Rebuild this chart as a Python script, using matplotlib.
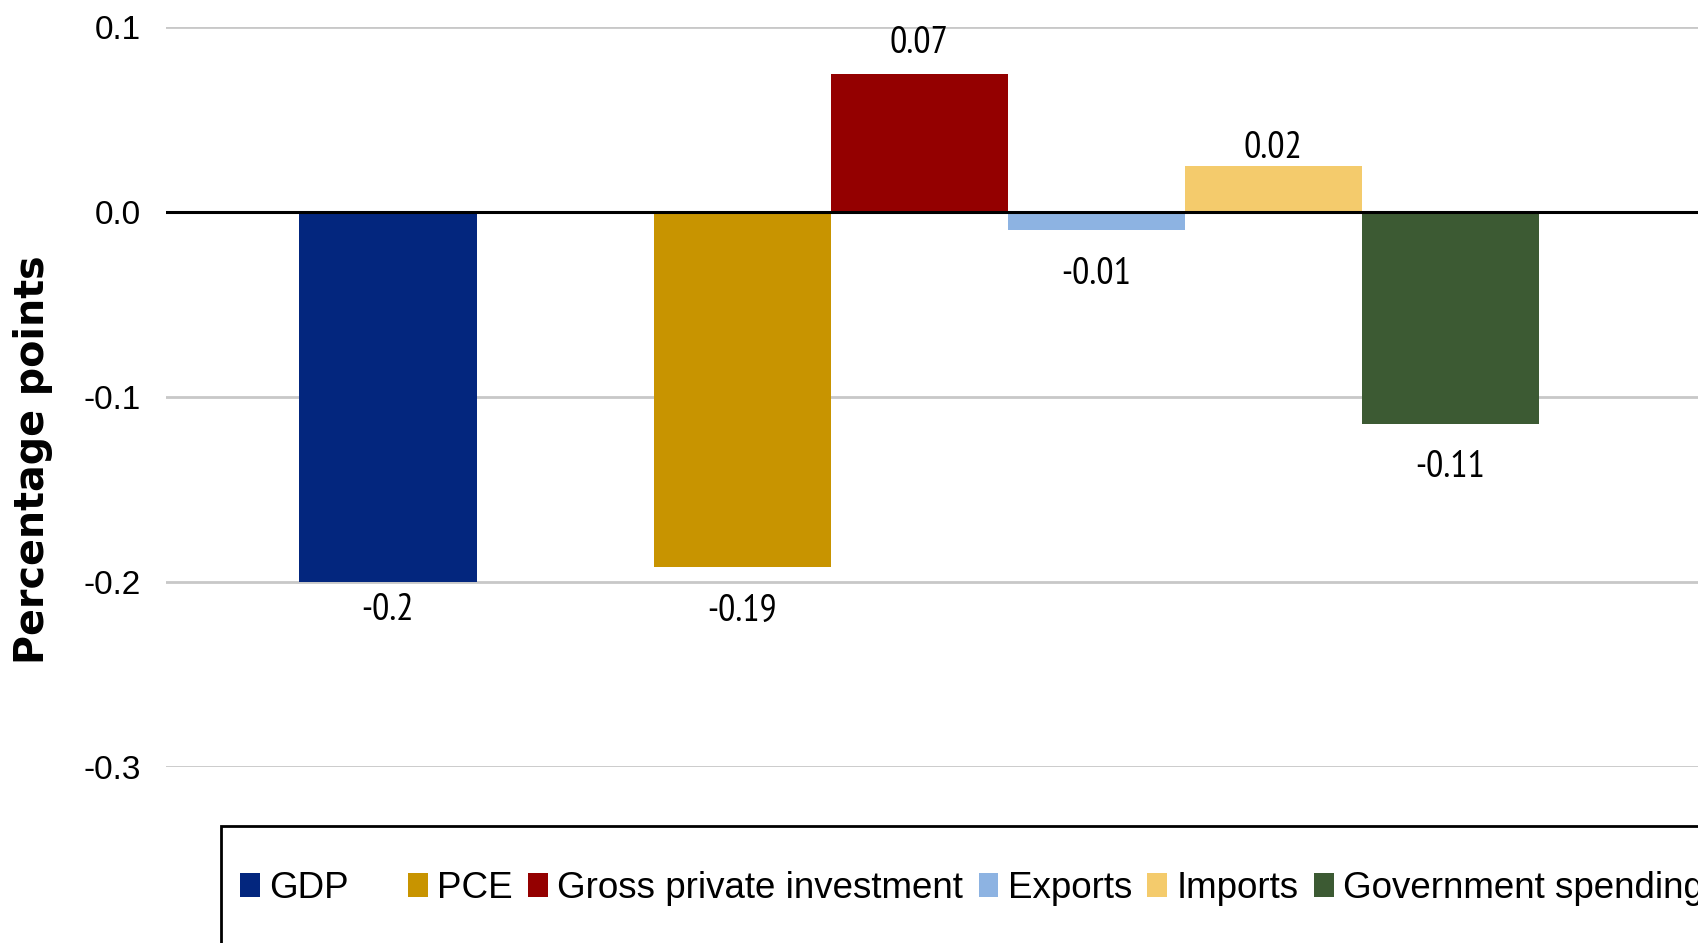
import matplotlib
matplotlib.use("Agg")
from matplotlib import pyplot as plt
from matplotlib import font_manager
from matplotlib.patches import Rectangle

# contributions to the revision, in percentage points
categories = ["GDP", "PCE", "Gross private investment", "Exports", "Imports", "Government spending"]
values = [-0.2, -0.1918, 0.0748, -0.0099, 0.0246, -0.1146]
slots = [0, 2, 3, 4, 5, 6]   # GDP stands apart from its components
colors = ["#03267E", "#C89400", "#940000", "#8DB3E2", "#F4CB6C", "#3C5A33"]
y_ticks = [0.1, 0.0, -0.1, -0.2, -0.3]

# space between bar end and its value label (data units)
label_gap = [0.0058, 0.0146, 0.0069, 0.0146, 0.0002, 0.014]

names = {f.name for f in font_manager.fontManager.ttflist}
narrow = "Liberation Sans"
for cand in ["Liberation Sans Narrow", "Arial Narrow", "PT Sans Narrow", "Archivo Narrow", "Roboto Condensed"]:
    if cand in names:
        narrow = cand
        break

W, H = 1698, 943
fig = plt.figure(figsize=(W / 100, H / 100), dpi=100)
ax = fig.add_axes([166 / W, 1 - 767 / H, 1 - 166 / W, (767 - 27) / H])

bars = []
for s, v, c, name, gap in zip(slots, values, colors, categories, label_gap):
    bars.append(ax.bar(s, v, width=1.0, color=c, label=name, zorder=2))
    txt = f"{v:.2f}".rstrip("0")
    if v > 0:
        ax.text(s, v + gap, txt, ha="center", va="bottom", fontsize=27.5, family=narrow, zorder=3)
    else:
        ax.text(s, v - gap, txt, ha="center", va="top", fontsize=27.5, family=narrow, zorder=3)

ax.set_xlim(-1.254, 7.40)
ax.set_ylim(-0.3, 0.1)
ax.set_yticks(y_ticks)
ax.set_yticklabels([f"{t:.1f}" for t in y_ticks], family="Liberation Sans", fontsize=24)
ax.tick_params(axis="y", length=0, pad=18)
ax.set_xticks([])
ax.yaxis.grid(True, color="#C8C8C8", linewidth=2, zorder=0)
ax.axhline(0, color="black", linewidth=2.2, zorder=4)
for sp in ax.spines.values():
    sp.set_visible(False)

fig.text(33 / W, 1 - 460 / H, "Percentage points", rotation=90, ha="center", va="center",
         fontsize=28.5, fontweight="bold", family="DejaVu Sans")

# legend frame runs off the right and bottom edges
fig.patches.append(Rectangle((221 / W, -0.1), 1.0, 0.1 + (H - 826) / H, transform=fig.transFigure,
                             fill=False, edgecolor="black", linewidth=2, zorder=5))

leg_kw = dict(frameon=False, prop={"family": "Liberation Sans", "size": 26.5}, borderpad=0,
              borderaxespad=0, handlelength=0.54, handleheight=0.63, handletextpad=0.25,
              columnspacing=0.42)
fig.legend(handles=bars[:1], loc="center left", bbox_to_anchor=(240 / W, 1 - 888 / H), **leg_kw)
fig.legend(handles=bars[1:], loc="center left", bbox_to_anchor=(408 / W, 1 - 888 / H), ncol=5, **leg_kw)

fig.savefig("out.png", dpi=100)
